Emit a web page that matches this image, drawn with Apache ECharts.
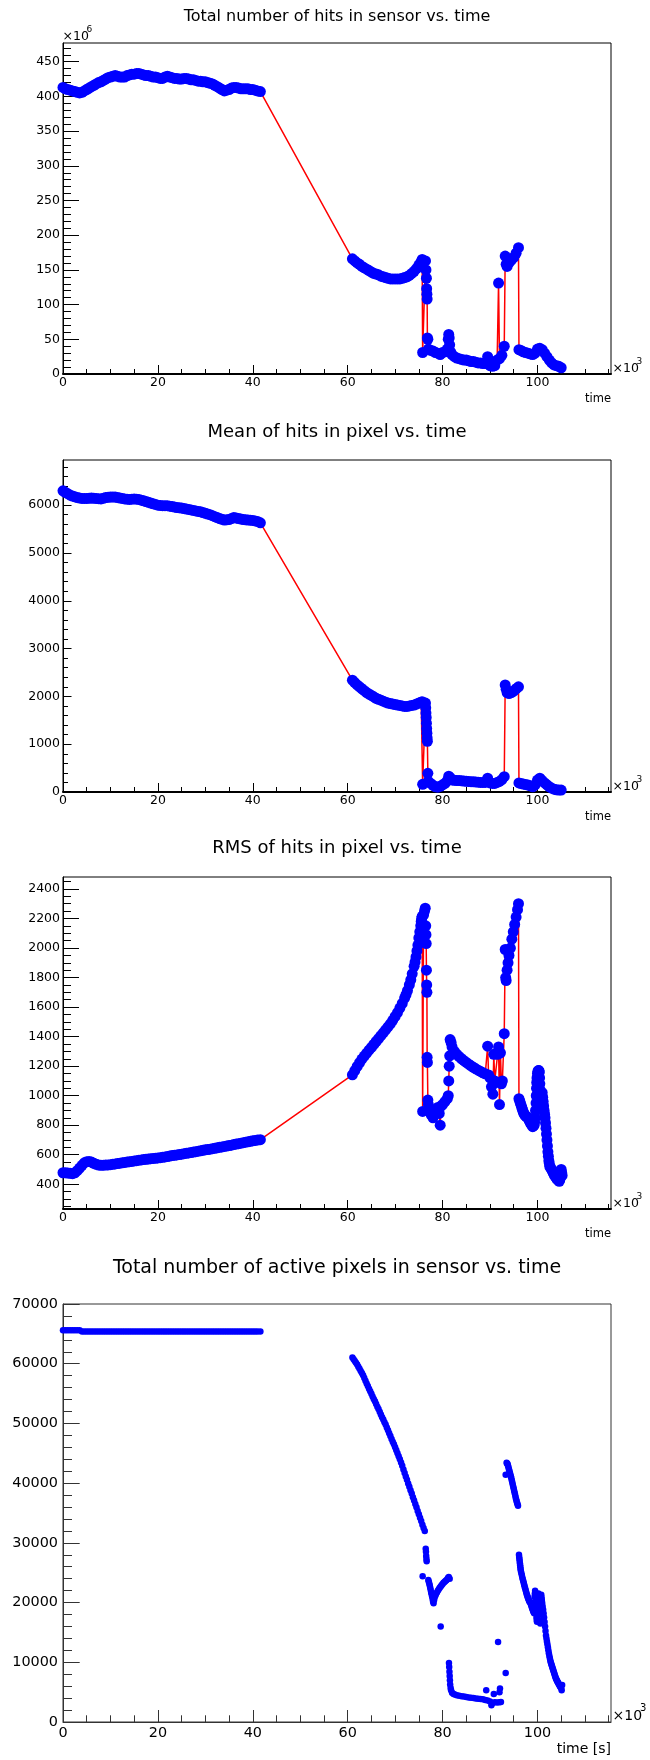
<!DOCTYPE html>
<html><head><meta charset="utf-8">
<script src="https://cdn.jsdelivr.net/npm/echarts@6/dist/echarts.min.js"></script>
<style>html,body{margin:0;padding:0;background:#fff}#c{width:650px;height:1760px}</style>
</head><body><div id="c"></div>
<script>
// ---------- tick labels ----------
const xTickLabels = [0, 20, 40, 60, 80, 100];
const hitsTickLabels = [0, 50, 100, 150, 200, 250, 300, 350, 400, 450];
const meanTickLabels = [0, 1000, 2000, 3000, 4000, 5000, 6000];
const rmsTickLabels = [400, 600, 800, 1000, 1200, 1400, 1600, 1800, 2000, 2200, 2400];
const pixTickLabels = [0, 10000, 20000, 30000, 40000, 50000, 60000, 70000];

// ---------- titles ----------
const titles = [
  'Total number of hits in sensor vs. time',
  'Mean of hits in pixel vs. time',
  'RMS of hits in pixel vs. time',
  'Total number of active pixels in sensor vs. time'
];

// ---------- data: [time (x10^3 s), value] ----------
const hitsData = [ // x10^6
[0,413],[0.5,411],[1,410],[1.5,409],[2,408],[2.5,407],[3,406],[3.5,405],[4,406],[4.5,408],[5,410],[5.5,412],[6,414],[6.5,416],[7,418],[7.5,420],[8,421],[8.5,423],[9,425],[9.5,427],[10,428],[10.5,429],[11,430],[11.5,429],[12,428],[12.5,428],[13,428],[13.5,430],[14,431],[14.5,432],[15,432],[15.5,433],[16,433],[16.5,432],[17,431],[17.5,430],[18,430],[18.5,429],[19,428],[19.5,428],[20,427],[20.5,426],[21,426],[21.5,428],[22,429],[22.5,428],[23,427],[23.5,426],[24,426],[24.5,425],[25,425],[25.5,426],[26,426],[26.5,425],[27,424],[27.5,424],[28,423],[28.5,422],[29,422],[29.5,421],[30,421],[30.5,420],[31,419],[31.5,418],[32,416],[32.5,414],[33,412],[33.5,410],[34,408],[34.5,409],[35,410],[35.5,412],[36,413],[36.5,413],[37,412],[37.5,411],[38,411],[38.5,411],[39,411],[39.5,410],[40,410],[40.5,409],[41,408],[41.6,407],
[61,166],[61.5,163],[62,160],[62.5,158],[63,155],[63.5,153],[64,151],[64.5,149],[65,147],[65.5,145],[66,144],[66.5,143],[67,141],[67.5,140],[68,139],[68.5,138],[69,137],[69.5,137],[70,137],[70.5,137],[71,137],[71.5,138],[72,139],[72.5,140],[73,142],[73.5,145],[74,148],[74.5,152],[75,157],[75.4,161],[75.7,165],[75.8,31],[76.4,163],[76.5,150],[76.6,138],[76.65,123],[76.7,115],[76.75,108],[76.8,52],[76.9,50],
[77,36],[77.5,34],[78,33],[78.5,31],[79,30],[79.5,28],[80,31],[80.5,32],[81,36],[81.2,50],[81.3,57],[81.4,52],[81.5,42],[81.7,32],[82,28],[82.5,25],[83,23],[83.5,22],[84,21],[84.5,20],[85,20],[85.5,19],[86,18],[86.5,18],[87,17],[87.5,16],[88,16],[88.5,15],[89,15],[89.5,25],[89.8,18],[90,12],[90.5,11],[91,12],[91.5,20],[91.8,131],[92,22],[92.5,27],[93,40],[93.2,170],[93.4,158],[93.6,155],[94,160],[94.5,164],[95,168],[95.5,174],[96,182],[96.1,35],[96.5,34],[97,32],[97.5,31],[98,30],[98.5,29],[99,28],[99.5,30],[100,36],[100.5,37],[101,35],[101.5,30],[102,25],[102.5,20],[103,16],[103.5,13],[104,12],[104.5,11],[105,9]
];

const meanData = [
[0,6300],[0.5,6270],[1,6240],[1.5,6210],[2,6190],[2.5,6175],[3,6160],[3.5,6150],[4,6140],[4.5,6140],[5,6140],[5.5,6145],[6,6150],[6.5,6145],[7,6140],[7.5,6135],[8,6130],[8.5,6145],[9,6160],[9.5,6165],[10,6170],[10.5,6170],[11,6170],[11.5,6160],[12,6150],[12.5,6140],[13,6130],[13.5,6125],[14,6120],[14.5,6125],[15,6130],[15.5,6125],[16,6120],[16.5,6105],[17,6090],[17.5,6075],[18,6060],[18.5,6045],[19,6030],[19.5,6015],[20,6000],[20.5,5995],[21,5990],[21.5,5990],[22,5990],[22.5,5980],[23,5970],[23.5,5960],[24,5950],[24.5,5945],[25,5940],[25.5,5930],[26,5920],[26.5,5910],[27,5900],[27.5,5890],[28,5880],[28.5,5870],[29,5860],[29.5,5845],[30,5830],[30.5,5815],[31,5800],[31.5,5780],[32,5760],[32.5,5740],[33,5720],[33.5,5705],[34,5690],[34.5,5695],[35,5700],[35.5,5720],[36,5740],[36.5,5730],[37,5720],[37.5,5710],[38,5700],[38.5,5695],[39,5690],[39.5,5685],[40,5680],[40.5,5670],[41,5660],[41.6,5630],
[61,2340],[61.5,2290],[62,2240],[62.5,2200],[63,2160],[63.5,2120],[64,2080],[64.5,2050],[65,2020],[65.5,1990],[66,1960],[66.5,1940],[67,1920],[67.5,1900],[68,1880],[68.5,1860],[69,1850],[69.5,1840],[70,1830],[70.5,1820],[71,1810],[71.5,1800],[72,1790],[72.5,1790],[73,1800],[73.5,1810],[74,1820],[74.5,1840],[75,1860],[75.5,1880],[75.7,1890],[75.8,160],[76.4,1860],[76.45,1760],[76.5,1650],[76.55,1560],[76.6,1440],[76.65,1330],[76.7,1230],[76.75,1130],[76.8,1060],[76.9,390],[77,220],
[77.5,180],[78,140],[78.5,110],[79,100],[79.5,120],[80,150],[80.5,180],[81,240],[81.3,330],[81.6,300],[82,250],[82.5,245],[83,240],[83.5,238],[84,235],[84.5,230],[85,225],[85.5,220],[86,215],[86.5,212],[87,210],[87.5,205],[88,200],[88.5,200],[89,200],[89.5,290],[90,190],[90.5,180],[91,180],[91.5,200],[92,220],[92.5,260],[93,320],[93.2,2240],[93.4,2150],[93.6,2080],[94,2060],[94.5,2080],[95,2110],[95.5,2160],[96,2200],[96.1,190],[96.5,180],[97,165],[97.5,155],[98,145],[98.5,130],[99,110],[99.5,150],[100,250],[100.5,290],[101,240],[101.5,190],[102,150],[102.5,110],[103,80],[103.5,60],[104,45],[104.5,40],[105,40]
];

const rmsData = [
[0,478],[0.5,478],[1,476],[1.5,474],[2,472],[2.5,478],[3,492],[3.5,510],[4,528],[4.5,545],[5,553],[5.5,555],[6,550],[6.5,542],[7,535],[7.5,530],[8,528],[8.5,529],[9,530],[9.5,531],[10,533],[10.5,535],[11,538],[11.5,540],[12,543],[12.5,545],[13,548],[13.5,550],[14,553],[14.5,555],[15,558],[15.5,560],[16,563],[16.5,565],[17,567],[17.5,569],[18,571],[18.5,573],[19,575],[19.5,576],[20,578],[20.5,580],[21,583],[21.5,585],[22,588],[22.5,591],[23,594],[23.5,596],[24,599],[24.5,601],[25,604],[25.5,607],[26,610],[26.5,612],[27,615],[27.5,618],[28,621],[28.5,624],[29,627],[29.5,630],[30,633],[30.5,635],[31,638],[31.5,641],[32,644],[32.5,647],[33,650],[33.5,653],[34,656],[34.5,659],[35,662],[35.5,665],[36,669],[36.5,672],[37,675],[37.5,678],[38,682],[38.5,685],[39,688],[39.5,691],[40,694],[40.5,697],[41,699],[41.6,702],
[61,1141],[61.5,1170],[62,1198],[62.5,1223],[63,1248],[63.5,1268],[64,1288],[64.5,1308],[65,1327],[65.5,1347],[66,1367],[66.5,1386],[67,1406],[67.5,1426],[68,1446],[68.5,1466],[69,1487],[69.5,1510],[70,1537],[70.5,1563],[71,1593],[71.5,1625],[72,1661],[72.3,1685],[72.6,1712],[73,1751],[73.3,1785],[73.6,1825],[74,1876],[74.2,1905],[74.4,1940],[74.6,1980],[74.8,2020],[75,2068],[75.2,2110],[75.4,2150],[75.5,2180],[75.6,2200],[75.7,2215],[75.8,893],[76,2225],[76.2,2250],[76.35,2270],[76.45,2150],[76.5,2090],[76.55,2030],[76.6,1850],[76.65,1750],[76.7,1700],[76.75,1260],[76.8,1225],[76.9,970],
[77,940],[77.3,900],[77.6,870],[78,850],[78.3,880],[78.6,900],[79,920],[79.3,880],[79.5,800],[79.7,930],[80,940],[80.5,960],[81,980],[81.2,1000],[81.3,1100],[81.4,1200],[81.5,1270],[81.6,1380],[81.8,1360],[82,1330],[82.5,1300],[83,1280],[83.5,1265],[84,1250],[84.5,1237],[85,1225],[85.5,1213],[86,1202],[86.5,1192],[87,1182],[87.5,1173],[88,1164],[88.5,1155],[89,1148],[89.5,1335],[89.7,1140],[90,1120],[90.3,1060],[90.6,1010],[90.8,1280],[91,1100],[91.3,1090],[91.6,1280],[91.8,1330],[92,940],[92.2,1290],[92.4,1080],[92.6,1100],[93,1420],[93.2,1990],[93.3,1800],[93.4,1780],[93.6,1850],[93.8,1900],[94,1950],[94.3,2000],[94.6,2060],[94.9,2110],[95.2,2160],[95.5,2210],[95.8,2260],[96,2300],
[96.1,980],[96.25,965],[96.4,950],[96.55,935],[96.7,920],[96.85,905],[97,890],[97.15,880],[97.3,870],[97.45,865],[97.6,860],[97.8,855],[98,850],[98.15,840],[98.3,830],[98.45,820],[98.6,810],[98.8,800],[99,790],[99.15,795],[99.3,800],[99.4,820],[99.5,850],[99.6,900],[99.7,950],[99.75,1000],[99.8,1050],[99.85,1090],[99.9,1120],[100,1150],[100.1,1165],[100.2,1170],[100.3,1170],[100.4,1160],[100.45,1120],[100.5,1080],[100.55,1040],[100.6,1000],[100.7,985],[100.8,980],[100.9,1000],[101,1020],[101.1,990],[101.2,960],[101.3,930],[101.4,900],[101.5,875],[101.6,850],[101.7,815],[101.8,780],[101.9,740],[102,700],[102.1,660],[102.2,620],[102.3,590],[102.4,560],[102.5,540],[102.6,520],[102.8,510],[103,500],[103.15,490],[103.3,480],[103.45,470],[103.6,460],[103.8,450],[104,440],[104.15,435],[104.3,430],[104.45,425],[104.6,420],[104.7,430],[104.8,440],[104.9,470],[105,500],[105.1,480],[105.2,460]
];

const pixData = [
[0,65600],[0.5,65600],[1,65600],[1.5,65600],[2,65600],[2.5,65600],[3,65600],[3.5,65600],[4,65400],[4.5,65400],[5,65400],[5.5,65400],[6,65400],[6.5,65400],[7,65400],[7.5,65400],[8,65400],[8.5,65400],[9,65400],[9.5,65400],[10,65400],[10.5,65400],[11,65400],[11.5,65400],[12,65400],[12.5,65400],[13,65400],[13.5,65400],[14,65400],[14.5,65400],[15,65400],[15.5,65400],[16,65400],[16.5,65400],[17,65400],[17.5,65400],[18,65400],[18.5,65400],[19,65400],[19.5,65400],[20,65400],[20.5,65400],[21,65400],[21.5,65400],[22,65400],[22.5,65400],[23,65400],[23.5,65400],[24,65400],[24.5,65400],[25,65400],[25.5,65400],[26,65400],[26.5,65400],[27,65400],[27.5,65400],[28,65400],[28.5,65400],[29,65400],[29.5,65400],[30,65400],[30.5,65400],[31,65400],[31.5,65400],[32,65400],[32.5,65400],[33,65400],[33.5,65400],[34,65400],[34.5,65400],[35,65400],[35.5,65400],[36,65400],[36.5,65400],[37,65400],[37.5,65400],[38,65400],[38.5,65400],[39,65400],[39.5,65400],[40,65400],[40.5,65400],[41,65400],[41.6,65400],
[61,61050],[61.25,60750],[61.5,60450],[61.75,60150],[62,59850],[62.25,59500],[62.5,59150],[62.75,58800],[63,58450],[63.25,58050],[63.5,57600],[63.75,57150],[64,56700],[64.25,56250],[64.5,55800],[64.75,55400],[65,54950],[65.25,54500],[65.5,54100],[65.75,53700],[66,53250],[66.25,52800],[66.5,52400],[66.75,51950],[67,51500],[67.25,51050],[67.5,50650],[67.75,50200],[68,49800],[68.25,49300],[68.5,48850],[68.75,48350],[69,47900],[69.25,47400],[69.5,46950],[69.75,46500],[70,46000],[70.25,45500],[70.5,45000],[70.75,44500],[71,44000],[71.25,43450],[71.5,42900],[71.75,42300],[72,41700],[72.25,41100],[72.5,40550],[72.75,39950],[73,39400],[73.25,38800],[73.5,38250],[73.75,37650],[74,37100],[74.25,36500],[74.5,35950],[74.75,35350],[75,34800],[75.25,34200],[75.5,33650],[75.75,33050],[76,32500],[76.25,32000],
[76.45,29000],[76.5,28500],[76.55,27800],[76.6,27300],[76.65,26900],[75.8,24400],
[77,23800],[77.1,23500],[77.2,23200],[77.3,22850],[77.4,22500],[77.5,22100],[77.6,21700],[77.7,21350],[77.8,21000],[77.9,20600],[78,20200],[78.1,19900],[78.2,20400],[78.3,20800],[78.45,21100],[78.6,21400],[78.8,21700],[79,22000],[79.2,22250],[79.4,22500],[79.6,22700],[79.8,22900],[80,23100],[80.2,23300],[80.4,23450],[80.6,23600],[80.8,23750],[81,23900],[81.15,24100],[81.3,24300],[81.5,24000],[79.6,16000],
[81.35,9900],[81.4,9200],[81.45,8400],[81.5,7700],[81.55,7000],[81.6,6300],[81.7,5700],[81.8,5300],[82,4900],[82.3,4700],[82.6,4600],[83,4500],[83.5,4400],[84,4300],[84.5,4250],[85,4200],[85.5,4100],[86,4050],[86.5,4000],[87,3950],[87.5,3900],[88,3850],[88.5,3800],[89,3700],[89.5,3600],[90,3450],[90.3,2800],[90.5,3200],[91,3300],[91.5,3250],[92,3300],[92.3,3350],
[89.2,5300],[90.8,4700],[91.7,13400],[92.1,5600],[92,5000],[93.3,8200],
[93.3,41400],[93.5,43400],[93.6,43300],[93.7,43200],[93.8,42900],[93.9,42600],[94,42300],[94.1,42000],[94.2,41700],[94.3,41400],[94.4,41100],[94.5,40800],[94.6,40450],[94.7,40100],[94.8,39750],[94.9,39400],[95,39050],[95.1,38700],[95.2,38350],[95.3,38000],[95.4,37650],[95.5,37300],[95.6,37000],[95.7,36700],[95.8,36450],[95.9,36200],
[96.1,28000],[96.15,27650],[96.2,27300],[96.25,26950],[96.3,26600],[96.35,26250],[96.4,25900],[96.45,25600],[96.5,25300],[96.6,24950],[96.7,24600],[96.8,24250],[96.9,23900],[97,23600],[97.1,23300],[97.2,23000],[97.3,22700],[97.4,22400],[97.5,22100],[97.6,21800],[97.7,21500],[97.8,21250],[97.9,21000],[98,20800],[98.1,20600],[98.2,20400],[98.3,20200],[98.4,20100],[98.5,20000],[98.6,19750],[98.7,19500],[98.8,19250],[98.9,19000],[99,18800],[99.1,18600],[99.2,18400],[99.3,18200],[99.35,19500],[99.4,21000],[99.45,21500],[99.5,22000],[99.55,21300],[99.6,20500],[99.65,19800],[99.7,19000],[99.75,18200],[99.8,17500],[99.85,17100],[99.9,16800],[99.95,17600],[100,18500],[100.05,19300],[100.1,20000],[100.15,20800],[100.2,21500],[100.25,21000],[100.3,20500],[100.35,19800],[100.4,19000],[100.45,18000],[100.5,17000],[100.55,16700],[100.6,16500],[100.65,18000],[100.7,19500],[100.75,20400],[100.8,21300],[100.85,20900],[100.9,20500],[100.95,20150],[101,19800],[101.1,19300],[101.2,18800],[101.3,18150],[101.4,17500],[101.5,16750],[101.6,16000],[101.7,15250],[101.8,14500],[101.9,14000],[102,13500],[102.1,13000],[102.2,12500],[102.3,12000],[102.4,11500],[102.5,11100],[102.6,10700],[102.7,10350],[102.8,10000],[102.9,9750],[103,9500],[103.1,9250],[103.2,9000],[103.3,8750],[103.4,8500],[103.5,8250],[103.6,8000],[103.7,7750],[103.8,7500],[103.9,7300],[104,7100],[104.1,6950],[104.2,6800],[104.3,6650],[104.4,6500],[104.5,6350],[104.6,6200],[104.7,6050],[104.8,5900],[104.9,5800],[105,5700],[105.1,5300],[105.2,6200]
];

// ---------- layout / style ----------
const FONT = 'DejaVu Sans';
const X_MAX = 115.5;
const panels = [
  { top: 43,   height: 331, ymin: 0,     ymax: 477,   ticks: hitsTickLabels, minorStep: 10,   yMaj: 16,   yMin: 8,   xMaj: 9,  xMin: 5,   lbl: 12.5, axisW: 2, col: '#000', titleY: 16.5,  titleSize: 16 },
  { top: 460,  height: 332, ymin: 0,     ymax: 6945,  ticks: meanTickLabels, minorStep: 200,  yMaj: 8.5,  yMin: 5,   xMaj: 9,  xMin: 5,   lbl: 12.5, axisW: 2, col: '#000', titleY: 432,   titleSize: 18 },
  { top: 877,  height: 332, ymin: 232.5, ymax: 2481,  ticks: rmsTickLabels,  minorStep: 50,   yMaj: 16,   yMin: 8,   xMaj: 9,  xMin: 5,   lbl: 12.5, axisW: 2, col: '#000', titleY: 848.5, titleSize: 18 },
  { top: 1304, height: 418, ymin: 0,     ymax: 70000, ticks: pixTickLabels,  minorStep: 2000, yMaj: 16.7, yMin: 9,   xMaj: 12, xMin: 6.7, lbl: 14.4, axisW: 1, col: '#333', titleY: 1268,  titleSize: 19 }
];

function stepList(from, to, step) {
  const out = [];
  for (let v = from; v <= to + 1e-9; v += step) out.push(+v.toFixed(6));
  return out;
}
const xMinorTicks = stepList(0, X_MAX, 5);
const plain = v => String(v);

const grids = [], xAxes = [], yAxes = [], graphics = [];
panels.forEach((p, i) => {
  grids.push({ left: 63, right: 39, top: p.top, height: p.height, show: true,
    borderColor: p.col, borderWidth: 1, backgroundColor: 'transparent', containLabel: false });
  const lblStyle = { color: '#000', fontFamily: FONT, fontSize: p.lbl, formatter: plain };
  xAxes.push({ type: 'value', gridIndex: i, min: 0, max: X_MAX, position: 'bottom',
    axisLine: { show: true, onZero: false, lineStyle: { color: p.col, width: p.axisW } },
    axisTick: { show: true, inside: true, length: p.xMaj, customValues: xTickLabels, lineStyle: { color: p.col, width: 1 } },
    axisLabel: Object.assign({ show: true, customValues: xTickLabels, margin: i === 3 ? 4 : 2 }, lblStyle),
    splitLine: { show: false } });
  xAxes.push({ type: 'value', gridIndex: i, min: 0, max: X_MAX, position: 'bottom',
    axisLine: { show: false },
    axisTick: { show: true, inside: true, length: p.xMin, customValues: xMinorTicks, lineStyle: { color: p.col, width: 1 } },
    axisLabel: { show: false }, splitLine: { show: false } });
  const yMinor = stepList(Math.ceil(p.ymin / p.minorStep) * p.minorStep, p.ymax, p.minorStep);
  yAxes.push({ type: 'value', gridIndex: i, min: p.ymin, max: p.ymax, position: 'left',
    axisLine: { show: true, onZero: false, lineStyle: { color: p.col, width: 1 } },
    axisTick: { show: true, inside: true, length: p.yMaj, customValues: p.ticks, lineStyle: { color: p.col, width: 1 } },
    axisLabel: Object.assign({ show: true, customValues: p.ticks, margin: i === 3 ? 5 : 3 }, lblStyle),
    splitLine: { show: false } });
  yAxes.push({ type: 'value', gridIndex: i, min: p.ymin, max: p.ymax, position: 'left',
    axisLine: { show: false },
    axisTick: { show: true, inside: true, length: p.yMin, customValues: yMinor, lineStyle: { color: p.col, width: 1 } },
    axisLabel: { show: false }, splitLine: { show: false } });

  // title
  graphics.push({ type: 'text', x: 337, y: p.titleY,
    style: { text: titles[i], fontFamily: FONT, fontSize: p.titleSize, fill: '#000',
      align: 'center', verticalAlign: 'middle', textAlign: 'center', textVerticalAlign: 'middle' } });
  const axisY = p.top + p.height;
  const big = i === 3;
  // x10^3 on x axis
  graphics.push({ type: 'text', x: 612.5, y: axisY - (big ? 6 : 5),
    style: { text: '\u00d710', fontFamily: FONT, fontSize: big ? 14 : 12.5, fill: '#000',
      align: 'left', verticalAlign: 'middle', textAlign: 'left', textVerticalAlign: 'middle' } });
  graphics.push({ type: 'text', x: big ? 640 : 636.5, y: axisY - (big ? 14 : 12),
    style: { text: '3', fontFamily: FONT, fontSize: big ? 10 : 9, fill: '#000',
      align: 'left', verticalAlign: 'middle', textAlign: 'left', textVerticalAlign: 'middle' } });
  // axis title
  graphics.push({ type: 'text', x: 611, y: axisY + (big ? 27.5 : 25),
    style: { text: big ? 'time [s]' : 'time', fontFamily: FONT, fontSize: big ? 14 : 11.5, fill: '#000',
      align: 'right', verticalAlign: 'middle', textAlign: 'right', textVerticalAlign: 'middle' } });
});
// x10^6 above first y axis
graphics.push({ type: 'text', x: 62.5, y: 36.5,
  style: { text: '\u00d710', fontFamily: FONT, fontSize: 12.5, fill: '#000',
    align: 'left', verticalAlign: 'middle', textAlign: 'left', textVerticalAlign: 'middle' } });
graphics.push({ type: 'text', x: 86.5, y: 29.5,
  style: { text: '6', fontFamily: FONT, fontSize: 9, fill: '#000',
    align: 'left', verticalAlign: 'middle', textAlign: 'left', textVerticalAlign: 'middle' } });

function lineSeries(data, idx) {
  return { type: 'line', xAxisIndex: idx * 2, yAxisIndex: idx * 2, data: data,
    symbol: 'circle', symbolSize: 11, showSymbol: true, showAllSymbol: true,
    itemStyle: { color: '#0000ff', borderWidth: 0 },
    lineStyle: { color: '#ff0000', width: 1.5 }, emphasis: { disabled: true }, silent: true };
}

const chart = echarts.init(document.getElementById('c'), null, { renderer: 'canvas' });
chart.setOption({
  animation: false,
  backgroundColor: '#ffffff',
  grid: grids, xAxis: xAxes, yAxis: yAxes,
  series: [
    lineSeries(hitsData, 0),
    lineSeries(meanData, 1),
    lineSeries(rmsData, 2),
    { type: 'scatter', xAxisIndex: 6, yAxisIndex: 6, data: pixData, symbol: 'circle', symbolSize: 6.5,
      itemStyle: { color: '#0000ff', opacity: 1 }, emphasis: { disabled: true }, silent: true }
  ],
  graphic: graphics
});
</script></body></html>
